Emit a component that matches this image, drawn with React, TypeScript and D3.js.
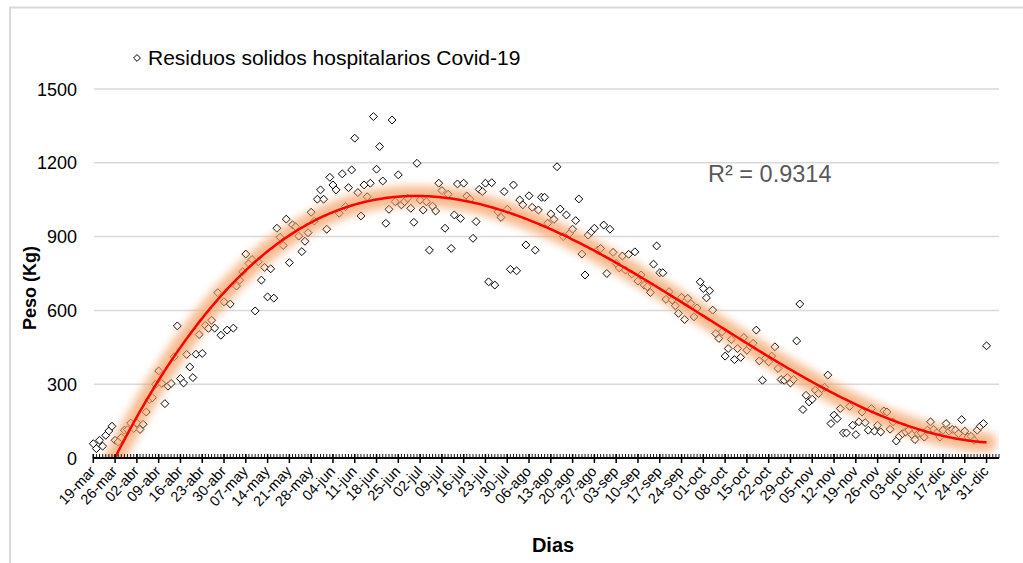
import React, { useEffect, useRef } from 'react';
import * as d3 from 'd3';

const width = 1023, height = 563;
const plot = { left: 94, right: 999, top: 89, bottom: 458 };
const x0 = 93.3; // tick 19-mar

const legendLabel = 'Residuos solidos hospitalarios Covid-19';
const r2Label = 'R² = 0.9314';
const yTicks = [0, 300, 600, 900, 1200, 1500];

// one label every 7 days, starting on 19-mar
const tickLabels = [
  '19-mar', '26-mar', '02-abr', '09-abr', '16-abr', '23-abr', '30-abr', '07-may',
  '14-may', '21-may', '28-may', '04-jun', '11-jun', '18-jun', '25-jun', '02-jul',
  '09-jul', '16-jul', '23-jul', '30-jul', '06-ago', '13-ago', '20-ago', '27-ago',
  '03-sep', '10-sep', '17-sep', '24-sep', '01-oct', '08-oct', '15-oct', '22-oct',
  '29-oct', '05-nov', '12-nov', '19-nov', '26-nov', '03-dic', '10-dic', '17-dic',
  '24-dic', '31-dic'
];

// daily weight (kg), 19-mar .. 31-dic
const pesoKg = [
  58, 38, 72, 48, 92, 110, 129, 72, 65, 83, 113, 115, 142, 120, 142, 116, 137, 187, 238, 245,
  300, 354, 303, 221, 292, 303, 411, 537, 323, 305, 421, 370, 327, 422, 502, 425, 539, 527, 560, 528,
  672, 499, 635, 520, 626, 528, 699, 723, 757, 829, 791, 807, 598, 798, 723, 775, 655, 769, 650, 934,
  897, 864, 971, 794, 948, 940, 902, 839, 881, 916, 999, 963, 1052, 1090, 1052, 930, 1141, 1110, 1090, 995,
  1155, 1022, 1099, 1171, 1300, 1079, 984, 1110, 1062, 1117, 1388, 1174, 1266, 1126, 954, 1011, 1374, 1042, 1151, 1029,
  1042, 1056, 1015, 958, 1198, 1049, 1008, 1042, 845, 1024, 1004, 1117, 1087, 934, 1072, 852, 988, 1114, 974, 1117,
  1065, 1052, 893, 961, 1092, 1083, 1117, 716, 1119, 703, 1001, 978, 1083, 1011, 767, 1110, 761, 1049, 1029, 866,
  1066, 1019, 845, 1008, 1060, 1060, 954, 992, 970, 1184, 1012, 900, 988, 913, 930, 965, 1053, 829, 744, 906,
  920, 934, 845, 852, 947, 750, 930, 836, 791, 773, 821, 764, 828, 748, 838, 719, 744, 703, 696, 673,
  788, 862, 753, 753, 645, 676, 642, 619, 588, 653, 563, 649, 628, 574, 610, 716, 689, 651, 680, 601,
  506, 486, 513, 414, 445, 482, 400, 445, 409, 490, 438, 455, 466, 520, 395, 316, 405, 391, 414, 452,
  364, 319, 316, 327, 305, 319, 476, 626, 197, 255, 228, 239, 276, 262, 282, 287, 337, 140, 174, 160,
  201, 102, 102, 210, 133, 95, 147, 187, 144, 113, 201, 109, 133, 106, 191, 187, 117, 147, 69, 88,
  99, 106, 113, 95, 75, 99, 102, 85, 113, 147, 116, 102, 85, 113, 140, 109, 116, 113, 99, 156,
  109, 85, 88, 72, 113, 129, 140, 456
];

// least squares polynomial (like excel's trendline)
function polyFit(xs: number[], ys: number[], order: number) {
  const n = order + 1;
  const A = Array.from({ length: n }, () => new Array(n + 1).fill(0));
  xs.forEach((x, i) => {
    for (let r = 0; r < n; r++) {
      for (let c = 0; c < n; c++) A[r][c] += Math.pow(x, r + c);
      A[r][n] += ys[i] * Math.pow(x, r);
    }
  });
  for (let i = 0; i < n; i++) {
    let p = i;
    for (let k = i + 1; k < n; k++) if (Math.abs(A[k][i]) > Math.abs(A[p][i])) p = k;
    [A[i], A[p]] = [A[p], A[i]];
    for (let k = i + 1; k < n; k++) {
      const f = A[k][i] / A[i][i];
      for (let c = i; c <= n; c++) A[k][c] -= f * A[i][c];
    }
  }
  const coef = new Array(n).fill(0);
  for (let i = n - 1; i >= 0; i--) {
    let s = A[i][n];
    for (let c = i + 1; c < n; c++) s -= A[i][c] * coef[c];
    coef[i] = s / A[i][i];
  }
  return (x: number) => coef.reduce((acc, c, i) => acc + c * Math.pow(x, i), 0);
}

const font = '"Liberation Sans", Arial, sans-serif';

function Chart() {
  const ref = useRef<SVGSVGElement>(null);

  useEffect(() => {
    const svg = d3.select(ref.current);
    svg.selectAll('*').remove();

    const x = d3.scaleLinear().domain([0, 291]).range([x0, plot.right]);
    const y = d3.scaleLinear().domain([0, 1500]).range([plot.bottom, plot.top]);

    const defs = svg.append('defs');
    defs.append('clipPath').attr('id', 'plotClip')
      .append('rect')
      .attr('x', plot.left).attr('y', plot.top)
      .attr('width', plot.right - plot.left).attr('height', plot.bottom - plot.top);
    const glow = defs.append('filter').attr('id', 'glow')
      .attr('x', '-10%').attr('y', '-10%').attr('width', '120%').attr('height', '120%');
    glow.append('feGaussianBlur').attr('stdDeviation', 4.5);

    // chart frame
    svg.append('rect')
      .attr('x', 10).attr('y', 7.5).attr('width', 1030).attr('height', 600)
      .attr('fill', 'white').attr('stroke', '#d9d9d9').attr('stroke-width', 2);

    // gridlines
    svg.append('g').selectAll('line')
      .data(yTicks.filter(d => d > 0))
      .enter().append('line')
      .attr('x1', plot.left).attr('x2', plot.right)
      .attr('y1', d => y(d)).attr('y2', d => y(d))
      .attr('stroke', '#d9d9d9').attr('stroke-width', 1.5);

    // y tick labels
    svg.append('g').selectAll('text')
      .data(yTicks)
      .enter().append('text')
      .attr('x', 77).attr('y', d => y(d) + 6.5)
      .attr('text-anchor', 'end')
      .attr('font-family', font).attr('font-size', 18)
      .attr('fill', '#000')
      .text(d => d);

    // markers
    const diamond = d3.symbol().type(d3.symbolDiamond2).size(40);
    svg.append('g').selectAll('path')
      .data(pesoKg)
      .enter().append('path')
      .attr('d', diamond)
      .attr('transform', (d, i) => `translate(${x(i)},${y(d)})`)
      .attr('fill', 'white').attr('stroke', '#000').attr('stroke-width', 1);

    // polynomial trendline
    const days = pesoKg.map((d, i) => i / 287);
    const fit = polyFit(days, pesoKg, 3);
    const trend = d3.range(0, 287.01, 0.5).map(d => [x(d), y(fit(d / 287))] as [number, number]);
    const line = d3.line();
    const tg = svg.append('g').attr('clip-path', 'url(#plotClip)');
    tg.append('path').attr('d', line(trend))
      .attr('fill', 'none').attr('stroke', '#f4a46a').attr('stroke-width', 20)
      .attr('stroke-linecap', 'round')
      .attr('opacity', 0.75).attr('filter', 'url(#glow)');
    tg.append('path').attr('d', line(trend))
      .attr('fill', 'none').attr('stroke', '#ff0000').attr('stroke-width', 2.5);

    // x axis
    const ax = svg.append('g');
    ax.append('line')
      .attr('x1', x0).attr('x2', plot.right)
      .attr('y1', plot.bottom).attr('y2', plot.bottom)
      .attr('stroke', '#000').attr('stroke-width', 2);
    ax.selectAll('.minor')
      .data(d3.range(0, 292))
      .enter().append('line')
      .attr('x1', d => x(d)).attr('x2', d => x(d))
      .attr('y1', plot.bottom - 4).attr('y2', plot.bottom)
      .attr('stroke', '#000').attr('stroke-width', 0.9);
    ax.selectAll('.major')
      .data(tickLabels)
      .enter().append('line')
      .attr('x1', (d, i) => x(i * 7)).attr('x2', (d, i) => x(i * 7))
      .attr('y1', plot.bottom - 4).attr('y2', plot.bottom + 5)
      .attr('stroke', '#000').attr('stroke-width', 1.5);
    ax.selectAll('text')
      .data(tickLabels)
      .enter().append('text')
      .attr('transform', (d, i) => `translate(${x(i * 7) + 3},${plot.bottom + 14}) rotate(-47)`)
      .attr('text-anchor', 'end')
      .attr('font-family', font).attr('font-size', 14.5)
      .attr('fill', '#000')
      .text(d => d);

    // axis titles
    svg.append('text')
      .attr('x', 553).attr('y', 552)
      .attr('text-anchor', 'middle')
      .attr('font-family', font).attr('font-size', 20).attr('font-weight', 'bold')
      .text('Dias');
    svg.append('text')
      .attr('transform', 'translate(36,288) rotate(-90)')
      .attr('text-anchor', 'middle')
      .attr('font-family', font).attr('font-size', 18).attr('font-weight', 'bold')
      .text('Peso (Kg)');

    // legend
    svg.append('path')
      .attr('d', d3.symbol().type(d3.symbolDiamond2).size(30))
      .attr('transform', 'translate(137,58)')
      .attr('fill', 'white').attr('stroke', '#000').attr('stroke-width', 1);
    svg.append('text')
      .attr('x', 148).attr('y', 65)
      .attr('font-family', font).attr('font-size', 21)
      .text(legendLabel);

    // R squared
    svg.append('text')
      .attr('x', 708).attr('y', 182)
      .attr('font-family', font).attr('font-size', 23.5)
      .attr('fill', '#595959')
      .text(r2Label);
  }, []);

  return <svg ref={ref} width={width} height={height} style={{ display: 'block' }} />;
}

export default function App() {
  return (
    <div style={{ position: 'absolute', left: 0, top: 0 }}>
      <Chart />
    </div>
  );
}
